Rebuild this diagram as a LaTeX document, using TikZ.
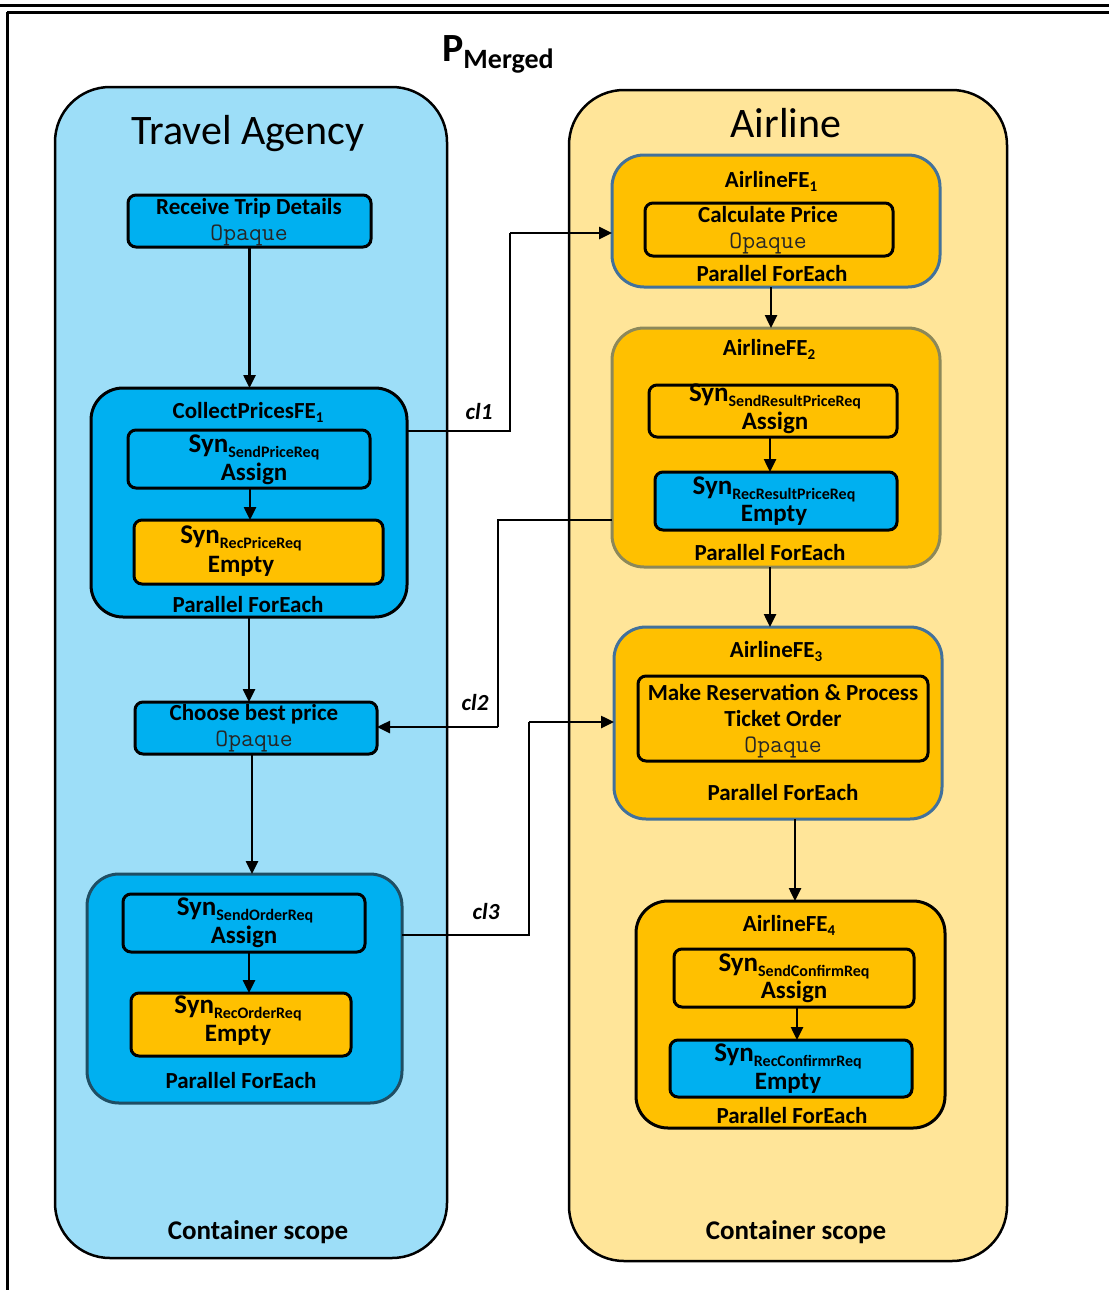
\documentclass[tikz,border=0pt]{standalone}
\usepackage{fontspec}
\setmainfont{Carlito}
\usetikzlibrary{arrows.meta}

\definecolor{taback}{RGB}{157,222,248}
\definecolor{alback}{RGB}{255,229,153}
\definecolor{actblue}{RGB}{0,176,240}
\definecolor{actorange}{RGB}{255,192,0}
\definecolor{steel}{RGB}{65,113,156}
\definecolor{olivegray}{RGB}{140,136,90}
\definecolor{tealdark}{RGB}{31,78,100}

% box from its corners: style, name, x1, y1, x2, y2
\newcommand\boxnode[6]{%
  \pgfmathsetmacro\bw{#5-#3}\pgfmathsetmacro\bh{#6-#4}%
  \node[#1, minimum width=\bw pt, minimum height=\bh pt] (#2) at ({(#3+#5)/2},{(#4+#6)/2}) {};}
% "Syn" with its message as a subscript
\newcommand\synlabel[1]{{\fontsize{27}{29}\selectfont Syn}{\fontsize{16}{18}\selectfont\raisebox{-5pt}{#1}}}
\newcommand\fesub[1]{{\fontsize{15}{16}\selectfont\raisebox{-4pt}{#1}}}

\begin{document}
\begin{tikzpicture}[x=1pt,y=-1pt,
  container/.style={draw=black, line width=2.5pt, rounded corners=55pt, inner sep=0, outer sep=0},
  febox/.style={line width=3pt, rounded corners=32pt, inner sep=0, outer sep=0},
  act/.style={draw=black, line width=3pt, rounded corners=8pt, inner sep=0, outer sep=0},
  flow/.style={line width=2.5pt, -{Triangle[length=13pt,width=12pt]}},
  link/.style={line width=2.5pt},
  lbl/.style={font=\fontsize{23}{27}\selectfont\bfseries, inner sep=0},
  synl/.style={font=\bfseries, inner sep=0},
  word/.style={font=\fontsize{25}{28}\selectfont\bfseries, inner sep=0},
  opq/.style={font=\fontsize{25}{26}\selectfont\ttfamily, text=black!85, inner sep=0},
  ttl/.style={font=\fontsize{42}{46}\selectfont, inner sep=0},
  scope/.style={font=\fontsize{27}{30}\selectfont\bfseries, inner sep=0},
  cl/.style={font=\fontsize{23}{26}\selectfont\bfseries\itshape, inner sep=0}]

\useasboundingbox (0,0) rectangle (1109,1290);
\fill[white] (0,0) rectangle (1109,1290);

% frame
\draw[line width=3pt] (0,6) -- (1109,6);
\draw[line width=2.5pt] (7,12.5) -- (1109,12.5);
\draw[line width=3pt] (7,12) -- (7,1290);

% title
\node[inner sep=0, anchor=base west] (title) at (442,62)
  {\bfseries\fontsize{40}{42}\selectfont P{\fontsize{28}{30}\selectfont\raisebox{-7pt}{Merged}}};

% containers
\boxnode{container, fill=taback}{ta}{55}{87}{447}{1258}
\boxnode{container, fill=alback}{al}{569}{90}{1007}{1261}
\node[ttl] (tatitle) at (248,134) {Travel Agency};
\node[ttl] (altitle) at (786,123) {Airline};
\node[scope] (tascope) at (258,1232) {Container scope};
\node[scope] (alscope) at (796,1232) {Container scope};

% Travel Agency activities
\boxnode{act, fill=actblue}{rtd}{128}{195}{371}{247}
\node[lbl] (rtdt) at (249,208) {Receive Trip Details};
\node[opq] (rtdo) at (249,235) {Opaque};

\boxnode{febox, draw=black, fill=actblue}{cp}{91}{388}{407}{617}
\node[lbl] (cpt) at (248,412) {CollectPricesFE\fesub{1}};
\boxnode{act, fill=actblue}{ca}{128}{430}{370}{488}
\node[synl] (cas) at (254,447) {\synlabel{SendPriceReq}};
\node[word] (caw) at (254,474) {Assign};
\boxnode{act, fill=actorange}{cb}{134}{520}{383}{584}
\node[synl] (cbs) at (241,538) {\synlabel{RecPriceReq}};
\node[word] (cbw) at (241,566) {Empty};
\node[lbl] (cpp) at (248,605) {Parallel ForEach};

\boxnode{act, fill=actblue}{ch}{135}{702}{377}{754}
\node[lbl] (cht) at (254,714) {Choose best price};
\node[opq] (cho) at (254,741) {Opaque};

\boxnode{febox, draw=tealdark, fill=actblue}{tb}{87}{874}{402}{1103}
\boxnode{act, fill=actblue}{ta1}{123}{894}{365}{952}
\node[synl] (ta1s) at (245,910) {\synlabel{SendOrderReq}};
\node[word] (ta1w) at (244,937) {Assign};
\boxnode{act, fill=actorange}{ta2}{131}{993}{351}{1056}
\node[synl] (ta2s) at (238,1008) {\synlabel{RecOrderReq}};
\node[word] (ta2w) at (238,1035) {Empty};
\node[lbl] (tbp) at (241,1081) {Parallel ForEach};

% Airline activities
\boxnode{febox, draw=steel, fill=actorange}{fe1}{612}{155}{940}{287}
\node[lbl] (fe1t) at (771,181) {AirlineFE\fesub{1}};
\boxnode{act, fill=actorange}{cpr}{645}{203}{893}{256}
\node[lbl] (cprt) at (768,215) {Calculate Price};
\node[opq] (cpro) at (768,243) {Opaque};
\node[lbl] (fe1p) at (772,274) {Parallel ForEach};

\boxnode{febox, draw=olivegray, fill=actorange}{fe2}{612}{328}{940}{567}
\node[lbl] (fe2t) at (769,349) {AirlineFE\fesub{2}};
\boxnode{act, fill=actorange}{f2a}{649}{385}{897}{437}
\node[synl] (f2as) at (775,396) {\synlabel{SendResultPriceReq}};
\node[word] (f2aw) at (775,423) {Assign};
\boxnode{act, fill=actblue}{f2b}{655}{472}{897}{530}
\node[synl] (f2bs) at (774,489) {\synlabel{RecResultPriceReq}};
\node[word] (f2bw) at (774,515) {Empty};
\node[lbl] (fe2p) at (770,553) {Parallel ForEach};

\boxnode{febox, draw=steel, fill=actorange}{fe3}{614}{627}{942}{819}
\node[lbl] (fe3t) at (776,651) {AirlineFE\fesub{3}};
\boxnode{act, fill=actorange}{mr}{638}{676}{928}{761}
\node[lbl] (mrt1) at (783,692) {Make Reservation \& Process};
\node[lbl] (mrt2) at (783,719) {Ticket Order};
\node[opq] (mro) at (783,747) {Opaque};
\node[lbl] (fe3p) at (783,793) {Parallel ForEach};

\boxnode{febox, draw=black, fill=actorange}{fe4}{636}{901}{945}{1128}
\node[lbl] (fe4t) at (789,925) {AirlineFE\fesub{4}};
\boxnode{act, fill=actorange}{f4a}{674}{949}{914}{1007}
\node[synl] (f4as) at (794,966) {\synlabel{SendConfirmReq}};
\node[word] (f4aw) at (794,992) {Assign};
\boxnode{act, fill=actblue}{f4b}{670}{1040}{912}{1097}
\node[synl] (f4bs) at (788,1056) {\synlabel{RecConfirmrReq}};
\node[word] (f4bw) at (788,1083) {Empty};
\node[lbl] (fe4p) at (792,1116) {Parallel ForEach};

% control flow inside each process
\draw[flow] (rtd.south) -- (rtd.south |- cp.north);
\draw[flow] (cp.south) -- (cp.south |- ch.north);
\draw[flow] ([xshift=-4pt]ch.south) -- ([xshift=-4pt]ch.south |- tb.north);
\draw[flow] ([xshift=1pt]ca.south) -- ([xshift=1pt]ca.south |- cb.north);
\draw[flow] ([xshift=5pt]ta1.south) -- ([xshift=5pt]ta1.south |- ta2.north);
\draw[flow] ([xshift=-5pt]fe1.south) -- ([xshift=-5pt]fe1.south |- fe2.north);
\draw[flow] ([xshift=-6pt]fe2.south) -- ([xshift=-6pt]fe2.south |- fe3.north);
\draw[flow] ([xshift=17pt]fe3.south) -- ([xshift=17pt]fe3.south |- fe4.north);
\draw[flow] ([xshift=-3pt]f2a.south) -- ([xshift=-3pt]f2a.south |- f2b.north);
\draw[flow] ([xshift=3pt]f4a.south) -- ([xshift=3pt]f4a.south |- f4b.north);

% communication links between the two processes
\coordinate (k1a) at (510,431);
\coordinate (k1b) at (510,233);
\draw[link] (cp.east |- k1a) -- (k1a) -- (k1b);
\draw[flow] (k1b) -- (fe1.west |- k1b);
\node[cl] (cl1) at (479,412) {cl1};

\coordinate (k2a) at (498,520);
\coordinate (k2b) at (498,727);
\draw[link] (fe2.west |- k2a) -- (k2a) -- (k2b);
\draw[flow] (k2b) -- (ch.east |- k2b);
\node[cl] (cl2) at (475,703) {cl2};

\coordinate (k3a) at (529,935);
\coordinate (k3b) at (529,722);
\draw[link] (tb.east |- k3a) -- (k3a) -- (k3b);
\draw[flow] (k3b) -- (fe3.west |- k3b);
\node[cl] (cl3) at (486,912) {cl3};
\end{tikzpicture}
\end{document}
